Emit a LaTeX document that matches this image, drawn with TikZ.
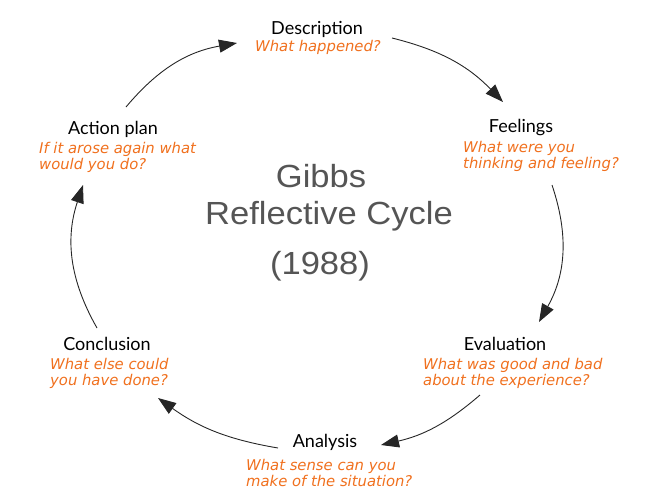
\documentclass[tikz,border=0pt]{standalone}
\usepackage{fontspec}
\usetikzlibrary{arrows.meta}
\newfontfamily\titlefont{Lato}
\newfontfamily\questfont{DejaVu Sans Oblique}
\newfontfamily\centerfont{Liberation Sans}[FakeStretch=1.08]
\definecolor{qorange}{RGB}{240,112,30}
\definecolor{cgray}{RGB}{85,85,85}
\tikzset{
  stage/.style={font={\titlefont\fontsize{18}{20}\selectfont}, text=black, inner sep=0pt},
  quest/.style={font={\questfont\fontsize{14.8}{16}\selectfont}, text=qorange, align=left, inner sep=0pt, anchor=west},
  ctitle/.style={font={\centerfont\fontsize{32}{36}\selectfont}, text=cgray, inner sep=0pt},
  conn/.style={-{Triangle[length=18pt,width=13pt]}, line width=0.9pt, black!85},
}
\begin{document}
\begin{tikzpicture}[x=1pt,y=-1pt]
\useasboundingbox (0,0) rectangle (653,499);
% stages
\node[stage] (desc) at (317,29) {Description};
\node[quest, anchor=center] (descq) at (318,47) {What happened?};
\node[stage] (feel) at (521,128) {Feelings};
\node[quest] (feelq) at (463,156) {What were you\\thinking and feeling?};
\node[stage] (eval) at (505,344) {Evaluation};
\node[quest] (evalq) at (423,373.5) {What was good and bad\\about the experience?};
\node[stage] (anal) at (325,442) {Analysis};
\node[quest] (analq) at (246,473) {What sense can you\\make of the situation?};
\node[stage] (conc) at (107,344) {Conclusion};
\node[quest] (concq) at (50,373.5) {What else could\\you have done?};
\node[stage] (act) at (113,129) {Action plan};
\node[quest] (actq) at (39,157.5) {If it arose again what\\would you do?};
% centre title
\node[ctitle] (gibbs) at (321,176) {Gibbs};
\node[ctitle] (refl) at (329,216) {Reflective Cycle};
\node[ctitle] (year) at (320,266) {(1988)};
% connector end points
\coordinate (a1) at (392,38);
\coordinate (a2) at (503,102);
\coordinate (b1) at (552,185);
\coordinate (b2) at (539,322);
\coordinate (c1) at (480,395);
\coordinate (c2) at (381,445);
\coordinate (d1) at (278,448);
\coordinate (d2) at (158,398);
\coordinate (e1) at (97,328);
\coordinate (e2) at (83,185);
\coordinate (f1) at (126,107);
\coordinate (f2) at (237,43);
\draw[conn] (a1) to[bend left=16] (a2);
\draw[conn] (b1) to[bend left=24] (b2);
\draw[conn] (c1) to[bend left=14] (c2);
\draw[conn] (d1) to[bend left=13] (d2);
\draw[conn] (e1) to[bend left=24] (e2);
\draw[conn] (f1) to[bend left=20] (f2);
\end{tikzpicture}
\end{document}
